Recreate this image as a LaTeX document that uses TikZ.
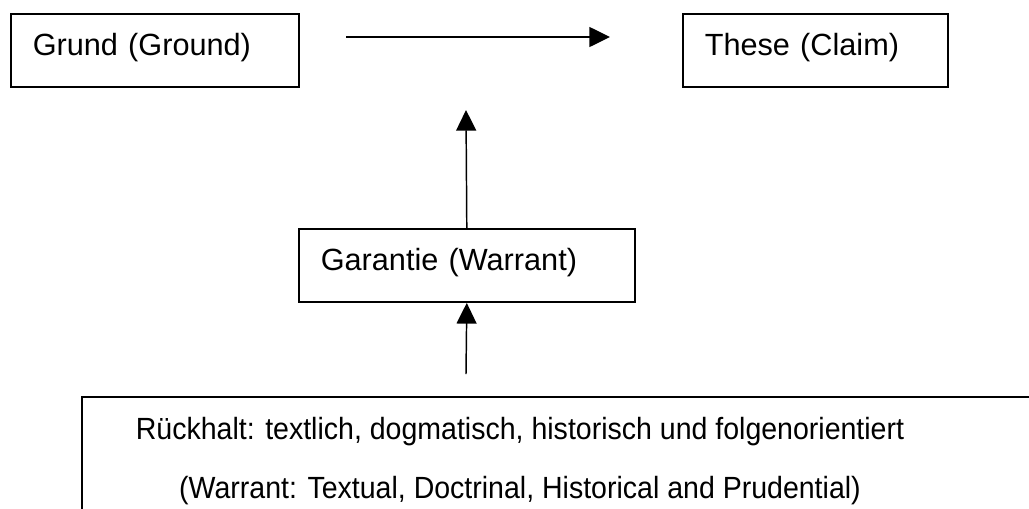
\documentclass[tikz,border=0pt]{standalone}
\usepackage{fontspec}
\setmainfont{Liberation Sans}
\newfontfamily\schmal[FakeStretch=0.93]{Liberation Sans}
\usetikzlibrary{arrows.meta}
\begin{document}
\begin{tikzpicture}[x=0.75pt,y=-0.75pt,
  box/.style={draw,line width=1.2pt,anchor=north west,align=left,inner xsep=16.5pt,minimum height=55pt,text height=17pt,text depth=9pt,font=\fontsize{23}{28}\selectfont},
  pfeil/.style={line width=1.1pt,-{Triangle[width=15pt,length=15.5pt]}}]
	\clip (0,0) rectangle (1029,508);
	\node[box,text width=183pt] (grund) at (10,13) {Grund (Ground)};
	\node[box,text width=165.75pt] (these) at (682,13) {These (Claim)};
	\node[box,text width=219pt] (garantie) at (298,228) {Garantie (Warrant)};
	\draw[line width=1.2pt] (82,530)--(82,397)--(1050,397);
	\node[align=center,anchor=base,font=\schmal\fontsize{23}{44}\selectfont] (rueckhalt) at (520,498) {Rückhalt: textlich, dogmatisch, historisch und folgenorientiert\\(Warrant: Textual, Doctrinal, Historical and Prudential)};
	\coordinate (g1) at (346,37);
	\coordinate (t1) at (610,37);
	\coordinate (r1) at (466,374);
	\coordinate (w1) at (466,110);
	\draw[pfeil] (g1)--(t1);
	\draw[pfeil] (garantie.north)--(w1);
	\draw[pfeil] (r1)--(garantie.south);
\end{tikzpicture}
\end{document}
